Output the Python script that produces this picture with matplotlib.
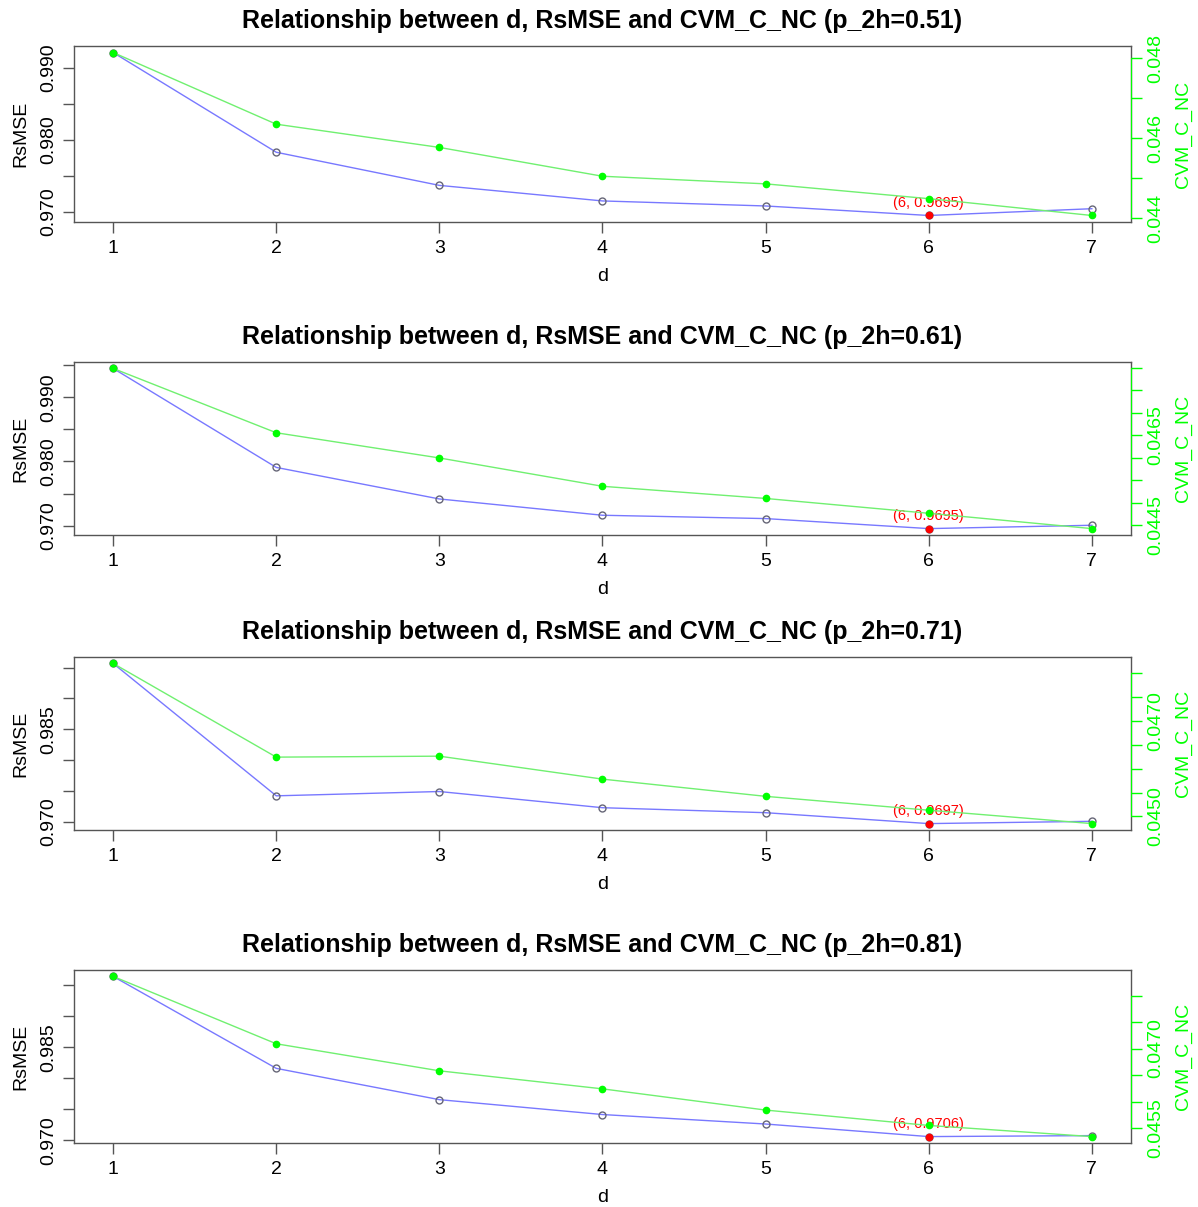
import numpy as np
import matplotlib
matplotlib.use("Agg")
import matplotlib.pyplot as plt
from matplotlib.ticker import MultipleLocator, FuncFormatter

plt.rcParams['font.family'] = ['Liberation Sans', 'DejaVu Sans']

d = [1, 2, 3, 4, 5, 6, 7]
p_2h = ["0.51", "0.61", "0.71", "0.81"]

# RsMSE per d, one list per p_2h
rsmse_051 = [0.99216, 0.97831, 0.97371, 0.97155, 0.97085, 0.96953, 0.97047]
rsmse_061 = [0.99451, 0.97907, 0.97415, 0.97161, 0.97109, 0.96953, 0.97005]
rsmse_071 = [0.99570, 0.97419, 0.97489, 0.97226, 0.97145, 0.96968, 0.97005]
rsmse_081 = [0.99644, 0.98160, 0.97655, 0.97415, 0.97262, 0.97059, 0.97075]

# CVM_C_NC per d
cvm_051 = [0.04814, 0.04635, 0.04577, 0.04505, 0.04486, 0.04449, 0.04407]
cvm_061 = [0.04799, 0.04656, 0.04600, 0.04537, 0.04510, 0.04477, 0.04443]
cvm_071 = [0.04820, 0.04624, 0.04626, 0.04578, 0.04542, 0.04513, 0.04485]
cvm_081 = [0.04836, 0.04709, 0.04658, 0.04624, 0.04584, 0.04555, 0.04534]

rsmse_all = [rsmse_051, rsmse_061, rsmse_071, rsmse_081]
cvm_all = [cvm_051, cvm_061, cvm_071, cvm_081]

# axis ticks: (step, labelled values, decimals)
left_axis = [(0.005, [0.970, 0.980, 0.990], 3),
             (0.005, [0.970, 0.980, 0.990], 3),
             (0.005, [0.970, 0.985], 3),
             (0.005, [0.970, 0.985], 3)]
right_axis = [(0.001, [0.044, 0.046, 0.048], 3),
              (0.0005, [0.0445, 0.0465], 4),
              (0.0005, [0.0450, 0.0470], 4),
              (0.0005, [0.0455, 0.0470], 4)]

# axes boxes in pixels (top, bottom)
boxes = [(46, 222), (362, 535), (657, 830), (970, 1143)]
W, H = 1198, 1207
BOX = "#555555"
GREEN = "#00FF00"


def r_lim(vals):
    lo, hi = min(vals), max(vals)
    pad = (hi - lo) * 0.04
    return lo - pad, hi + pad


def sparse_formatter(labels, dec):
    def fmt(v, pos):
        for lab in labels:
            if abs(v - lab) < 1e-7:
                return f"{lab:.{dec}f}"
        return ""
    return FuncFormatter(fmt)


fig = plt.figure(figsize=(W / 100, H / 100), dpi=100)

for i in range(4):
    top, bot = boxes[i]
    ax = fig.add_axes([74 / W, 1 - bot / H, (1131 - 74) / W, (bot - top) / H])
    rs = rsmse_all[i]
    cv = cvm_all[i]

    ax.plot(d, rs, color="#7878FF", lw=1, zorder=2)
    ax.plot(d, rs, 'o', mfc="none", mec="#666677", ms=5, mew=1, zorder=3)
    k = int(np.argmin(rs))
    ax.plot(d[k], rs[k], 'o', color="red", ms=4.5, zorder=4)
    ax.annotate(f"({d[k]}, {rs[k]:.4f})", (d[k], rs[k]), xytext=(0, 9),
                textcoords="offset points", ha="center", va="center",
                color="red", fontsize=10.5)

    ax.set_xlim(0.76, 7.24)
    ax.set_ylim(*r_lim(rs))
    ax.set_xticks(d)
    step, labs, dec = left_axis[i]
    ax.yaxis.set_major_locator(MultipleLocator(step))
    ax.yaxis.set_major_formatter(sparse_formatter(labs, dec))
    for lab in ax.get_yticklabels():
        lab.set_rotation(90)
        lab.set_va("center")
    ax.tick_params(axis="both", colors=BOX, labelcolor="black", length=8,
                   width=1, labelsize=14)
    ax.tick_params(axis="y", pad=4)
    ax.tick_params(axis="x", pad=5)
    for sp in ax.spines.values():
        sp.set_color(BOX)
        sp.set_linewidth(1)
    ax.set_xlabel("d", fontsize=14, labelpad=8)
    ax.set_ylabel("RsMSE", fontsize=14, labelpad=8)
    ax.set_title(f"Relationship between d, RsMSE and CVM_C_NC (p_2h={p_2h[i]})",
                 fontsize=18, fontweight="bold", pad=13)

    ax2 = ax.twinx()
    ax2.plot(d, cv, color="#70F070", lw=1, zorder=2)
    ax2.plot(d, cv, 'o', color=GREEN, ms=4.5, zorder=3)
    ax2.set_ylim(*r_lim(cv))
    step, labs, dec = right_axis[i]
    ax2.yaxis.set_major_locator(MultipleLocator(step))
    ax2.yaxis.set_major_formatter(sparse_formatter(labs, dec))
    for lab in ax2.get_yticklabels():
        lab.set_rotation(90)
        lab.set_va("center")
    ax2.tick_params(axis="y", colors=GREEN, labelcolor=GREEN, length=8,
                    width=1, labelsize=14, pad=4)
    for name in ["top", "bottom", "left"]:
        ax2.spines[name].set_visible(False)
    lo, hi = ax2.get_ylim()
    ticks = [t for t in ax2.get_yticks() if lo <= t <= hi]
    ax2.spines["right"].set_bounds(min(ticks), max(ticks))
    ax2.spines["right"].set_color(GREEN)
    ax2.set_ylabel("CVM_C_NC", color=GREEN, fontsize=14, labelpad=7)

fig.savefig("out.png", dpi=100)
